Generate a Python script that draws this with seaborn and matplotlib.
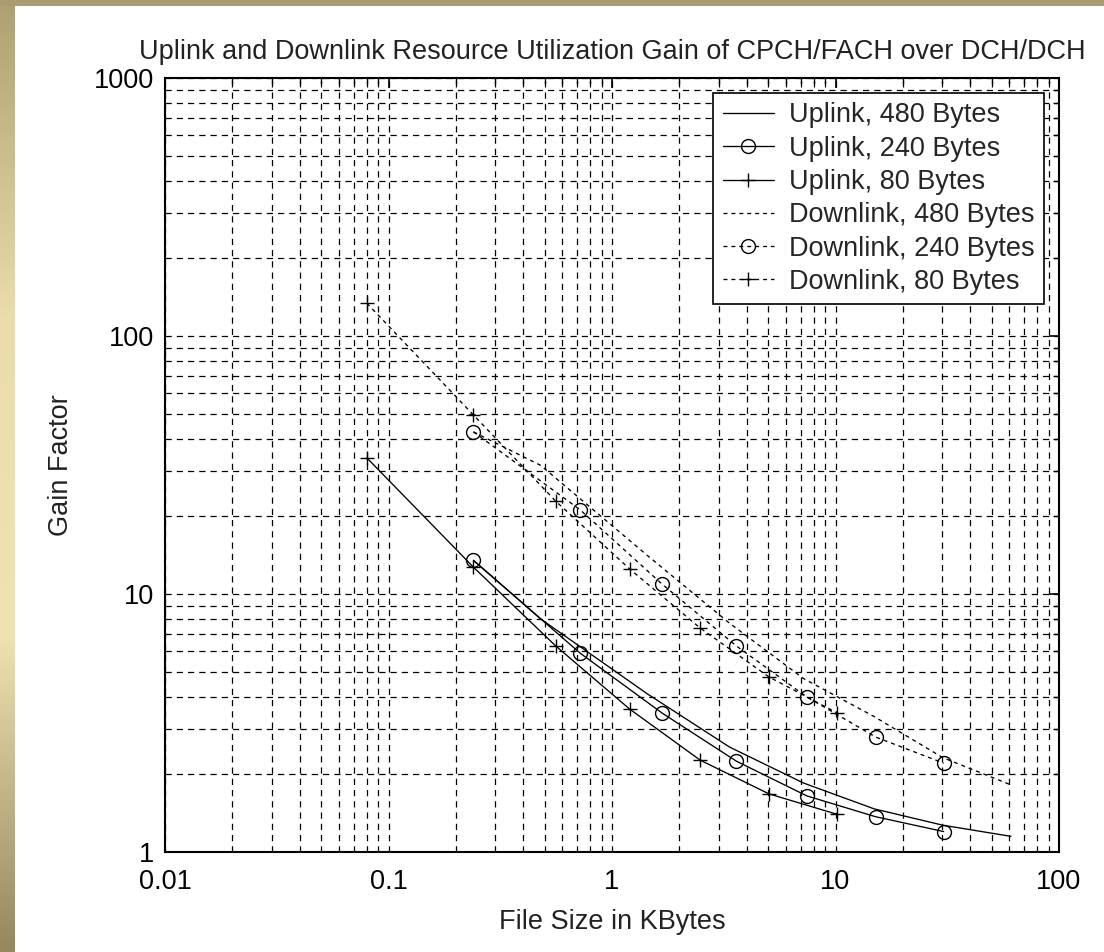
import numpy as np
import pandas as pd
import seaborn as sns
import matplotlib.pyplot as plt
from matplotlib.ticker import FuncFormatter, LogLocator

# file size (KBytes) and gain factor
up480_x = [0.24, 0.48, 1.44, 3.36, 7.2, 14.88, 30.24, 60.96]
up480_y = [13.5, 8.0, 4.1, 2.55, 1.85, 1.47, 1.27, 1.15]
up240_x = [0.24, 0.72, 1.68, 3.6, 7.44, 15.12, 30.48]
up240_y = [13.5, 5.9, 3.45, 2.25, 1.65, 1.37, 1.2]
up80_x = [0.08, 0.24, 0.56, 1.2, 2.48, 5.04, 10.16]
up80_y = [33.7, 12.7, 6.29, 3.58, 2.27, 1.68, 1.40]
dn480_x = [0.24, 0.48, 1.44, 3.36, 7.2, 14.88, 30.24, 60.96]
dn480_y = [42.5, 31.5, 14.1, 7.7, 4.7, 3.35, 2.32, 1.82]
dn240_x = [0.24, 0.72, 1.68, 3.6, 7.44, 15.12, 30.48]
dn240_y = [42.5, 21.2, 10.9, 6.29, 3.99, 2.79, 2.21]
dn80_x = [0.08, 0.24, 0.56, 1.2, 2.48, 5.04, 10.16]
dn80_y = [134, 49.4, 22.9, 12.5, 7.38, 4.77, 3.46]

labels = ["Uplink, 480 Bytes", "Uplink, 240 Bytes", "Uplink, 80 Bytes",
          "Downlink, 480 Bytes", "Downlink, 240 Bytes", "Downlink, 80 Bytes"]
xs = [up480_x, up240_x, up80_x, dn480_x, dn240_x, dn80_x]
ys = [up480_y, up240_y, up80_y, dn480_y, dn240_y, dn80_y]

sns.set_theme(style="white")
plt.rcParams['font.family'] = ['Liberation Sans', 'DejaVu Sans']
fs = 19.5
plt.rcParams['font.size'] = fs

fig = plt.figure(figsize=(11.04, 9.52), dpi=100)
fig.patch.set_facecolor('white')

# slide background strips (left gradient, top bar)
grad = np.array([[175, 160, 115], [235, 220, 170], [240, 226, 178], [150, 135, 95]]) / 255
t = np.linspace(0, 1, 200)
stops = np.linspace(0, 1, len(grad))
img = np.stack([np.interp(t, stops, grad[:, i]) for i in range(3)], axis=1)[:, None, :]
bg = fig.add_axes([0, 0, 15 / 1104, 1])
bg.imshow(img, aspect='auto', extent=[0, 1, 0, 1])
bg.axis('off')
top = fig.add_axes([0, 1 - 6 / 952, 1, 6 / 952])
top.set_facecolor('#ab9c74')
top.set_xticks([])
top.set_yticks([])
for s in top.spines.values():
    s.set_visible(False)

ax = fig.add_axes([165 / 1104, 1 - 852 / 952, 894 / 1104, 774 / 952])
ax.set_facecolor('white')

styles = [
    dict(linestyle='-', marker=None),
    dict(linestyle='-', marker='o'),
    dict(linestyle='-', marker='+'),
    dict(linestyle=(0, (3, 3)), marker=None),
    dict(linestyle=(0, (3, 3)), marker='o'),
    dict(linestyle=(0, (3, 3)), marker='+'),
]

for x, y, lab, st in zip(xs, ys, labels, styles):
    df = pd.DataFrame({'x': x, 'y': y})
    sns.lineplot(data=df, x='x', y='y', ax=ax, color='black', linewidth=0.95,
                 linestyle=st['linestyle'], marker=st['marker'], markersize=10,
                 markerfacecolor='none', markeredgecolor='black', markeredgewidth=1.0,
                 estimator=None, sort=False, label=lab)

ax.set_xscale('log')
ax.set_yscale('log')
ax.set_xlim(0.01, 100)
ax.set_ylim(1, 1000)
fmt = FuncFormatter(lambda v, p: '%g' % v)
ax.xaxis.set_major_formatter(fmt)
ax.yaxis.set_major_formatter(fmt)
ax.xaxis.set_minor_locator(LogLocator(base=10, subs=np.arange(2, 10)))
ax.yaxis.set_minor_locator(LogLocator(base=10, subs=np.arange(2, 10)))
ax.xaxis.set_minor_formatter(FuncFormatter(lambda v, p: ''))
ax.yaxis.set_minor_formatter(FuncFormatter(lambda v, p: ''))

ax.grid(True, which='both', color='black', linestyle=(0, (5, 4)), linewidth=0.9)
ax.tick_params(which='both', direction='in', top=True, right=True, colors='black',
               labelsize=fs)
ax.tick_params(axis='x', which='major', length=7, width=1.2, pad=12)
ax.tick_params(axis='y', which='major', length=7, width=1.2, pad=8)
ax.tick_params(which='minor', length=4, width=1.0)
for s in ax.spines.values():
    s.set_color('black')
    s.set_linewidth(1.5)

ax.set_title('Uplink and Downlink Resource Utilization Gain of CPCH/FACH over DCH/DCH',
             fontsize=fs, pad=14, color='#222222')
ax.set_xlabel('File Size in KBytes', fontsize=fs, labelpad=10, color='#222222')
ax.set_ylabel('Gain Factor', fontsize=fs, labelpad=14, color='#222222')

leg = ax.legend(loc='upper right', fontsize=fs, frameon=True, fancybox=False,
                edgecolor='black', framealpha=1, borderaxespad=0.55,
                handlelength=1.9, labelspacing=0.27, borderpad=0.35, handletextpad=0.55)
leg.get_frame().set_linewidth(1.2)

fig.savefig('out.png', dpi=100)
